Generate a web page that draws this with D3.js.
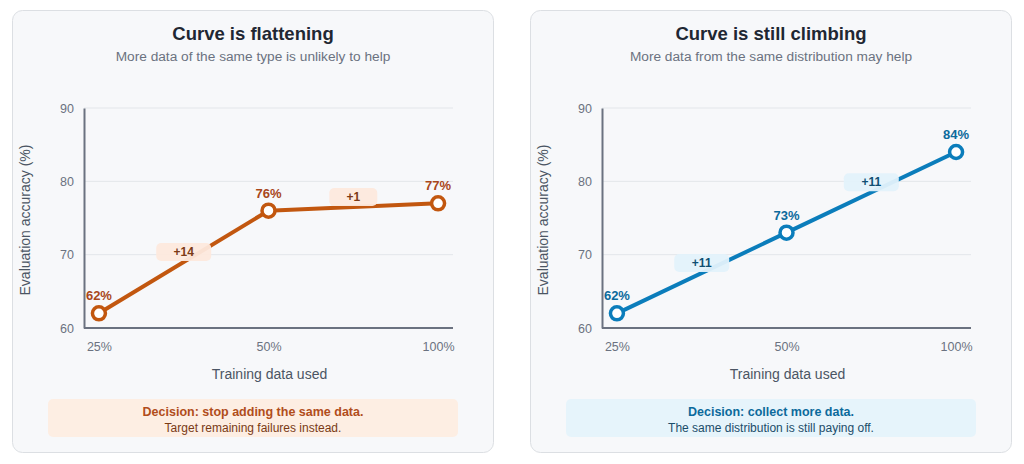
<!DOCTYPE html>
<html><head><meta charset="utf-8">
<script src="https://cdn.jsdelivr.net/npm/d3@7/dist/d3.min.js"></script>
<style>
html,body{margin:0;padding:0;background:#fff;}
svg{display:block;font-family:"Liberation Sans",Arial,Helvetica,sans-serif;}
</style></head>
<body>
<svg id="chart" width="1024" height="464"></svg>
<script>
const categories = ["25%", "50%", "100%"];
const yTicks = [60, 70, 80, 90];
const flatValues = [62, 76, 77];
const climbValues = [62, 73, 84];
const titles = ["Curve is flattening", "Curve is still climbing"];
const subtitles = ["More data of the same type is unlikely to help", "More data from the same distribution may help"];
const decisions = ["Decision: stop adding the same data.", "Decision: collect more data."];
const decisionNotes = ["Target remaining failures instead.", "The same distribution is still paying off."];
const xTitle = "Training data used";
const yTitle = "Evaluation accuracy (%)";

const themes = [
  {line:"#c2570f", label:"#a9471a", deltaBg:"#fde9dd", deltaText:"#7c3b16", boxBg:"#fdeee3", dec:"#b14d1b", note:"#7a3a15"},
  {line:"#0b7dbb", label:"#0c6a9c", deltaBg:"#e3f2fb", deltaText:"#0f4f73", boxBg:"#e6f4fb", dec:"#0c6a9c", note:"#1b4d6a"}
];
const panels = [
  {x:12, values:flatValues},
  {x:530, values:climbValues}
];

const svg = d3.select("#chart");
const W = 482, H = 443;

panels.forEach((p, i) => {
  const t = themes[i];
  const g = svg.append("g").attr("transform", `translate(${p.x},10)`);
  g.append("rect").attr("x",0.5).attr("y",0.5).attr("width",W-1).attr("height",H-1)
    .attr("rx",10).attr("fill","#f7f8fa").attr("stroke","#dcdfe3").attr("stroke-width",1);

  g.append("text").attr("x",W/2).attr("y",30).attr("text-anchor","middle")
    .attr("font-size",18.5).attr("font-weight","bold").attr("fill","#1f2733").text(titles[i]);
  g.append("text").attr("x",W/2).attr("y",51).attr("text-anchor","middle")
    .attr("font-size",13.7).attr("fill","#6b7280").text(subtitles[i]);

  const x0 = 72, x1 = 441;
  const x = d3.scalePoint().domain(categories).range([x0, x1]).padding(0.088);
  const y = d3.scaleLinear().domain([60, 90]).range([318, 98]);

  g.append("g").selectAll("line").data(yTicks.filter(v => v > 60)).join("line")
    .attr("x1", x0).attr("x2", x1).attr("y1", d => y(d)).attr("y2", d => y(d))
    .attr("stroke","#e3e6ea").attr("stroke-width",1);

  const ya = g.append("g").attr("transform",`translate(${x0},0)`)
    .call(d3.axisLeft(y).tickValues(yTicks).tickSize(0).tickPadding(10));
  ya.select(".domain").attr("stroke","#6b7280").attr("stroke-width",2);
  ya.selectAll("text").attr("font-size",12.5).attr("fill","#6b7280").attr("font-family","Liberation Sans, Arial, sans-serif");

  const xa = g.append("g").attr("transform",`translate(0,318)`)
    .call(d3.axisBottom(x).tickSize(0).tickPadding(14));
  xa.select(".domain").attr("stroke","#6b7280").attr("stroke-width",2).attr("d",`M${x0},0H${x1}`);
  xa.selectAll("text").attr("font-size",12.5).attr("fill","#6b7280").attr("font-family","Liberation Sans, Arial, sans-serif");

  g.append("text").attr("x",(x(categories[0])+x(categories[2]))/2+1).attr("y",369).attr("text-anchor","middle")
    .attr("font-size",14).attr("fill","#4b5563").text(xTitle);
  g.append("text").attr("transform",`translate(18,${(y(60)+y(90))/2+2}) rotate(-90)`)
    .attr("text-anchor","middle").attr("font-size",14).attr("fill","#4b5563").text(yTitle);

  const pts = categories.map((c, k) => ({c, v: p.values[k]}));
  const line = d3.line().x(d => x(d.c)).y(d => y(d.v));
  g.append("path").datum(pts).attr("d", line).attr("fill","none")
    .attr("stroke", t.line).attr("stroke-width",4).attr("stroke-linejoin","round");

  for (let k = 0; k < pts.length - 1; k++) {
    const a = pts[k], b = pts[k+1];
    const mx = (x(a.c) + x(b.c)) / 2;
    const my = (y(a.v) + y(b.v)) / 2 - 10;
    const txt = (b.v - a.v >= 0 ? "+" : "") + (b.v - a.v);
    const bw = txt.length > 2 ? 55 : 48;
    g.append("rect").attr("x", mx - bw/2).attr("y", my - 9).attr("width", bw).attr("height", 18)
      .attr("rx",5).attr("fill", t.deltaBg).attr("opacity",0.95);
    g.append("text").attr("x", mx).attr("y", my + 4).attr("text-anchor","middle")
      .attr("font-size",12).attr("font-weight","bold").attr("fill", t.deltaText).text(txt);
  }

  g.append("g").selectAll("circle").data(pts).join("circle")
    .attr("cx", d => x(d.c)).attr("cy", d => y(d.v)).attr("r",6.5)
    .attr("fill","#fff").attr("stroke", t.line).attr("stroke-width",3.5);

  g.append("g").selectAll("text").data(pts).join("text")
    .attr("x", d => x(d.c)).attr("y", d => y(d.v) - 13).attr("text-anchor","middle")
    .attr("font-size",13).attr("font-weight","bold").attr("fill", t.label).text(d => d.v + "%");

  g.append("rect").attr("x",36).attr("y",389).attr("width",410).attr("height",38).attr("rx",5)
    .attr("fill", t.boxBg);
  g.append("text").attr("x",241).attr("y",406).attr("text-anchor","middle")
    .attr("font-size",12.5).attr("font-weight","bold").attr("fill", t.dec).text(decisions[i]);
  g.append("text").attr("x",241).attr("y",421.5).attr("text-anchor","middle")
    .attr("font-size",12).attr("fill", t.note).text(decisionNotes[i]);
});
</script>
</body></html>
